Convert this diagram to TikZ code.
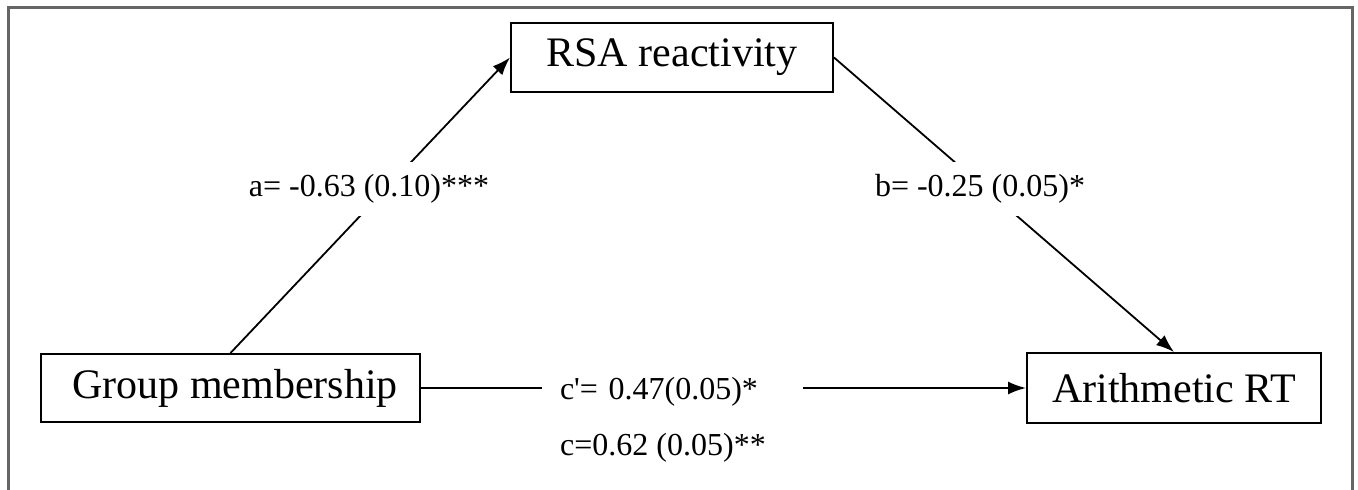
\documentclass[tikz,border=0pt]{standalone}
\usepackage{fontspec}
\setmainfont{Liberation Serif}
\usetikzlibrary{arrows.meta}
\begin{document}
\begin{tikzpicture}[x=1pt,y=-1pt,
  box/.style={draw, line width=2pt, inner sep=0pt, font=\fontsize{42}{48}\selectfont},
  lbl/.style={fill=white, inner xsep=4pt, inner ysep=12pt, font=\fontsize{32}{38}\selectfont},
  conn/.style={line width=1.8pt, -{Latex[length=18pt,width=13pt]}}]
\useasboundingbox (0,0) rectangle (1358,490);
\draw[line width=3pt, color=black!60] (8,490) -- (8,7) -- (1352,7) -- (1352,490);
\node[box, minimum width=322, minimum height=69] (rsa) at (672,57.5) {RSA reactivity};
\node[box, minimum width=379, minimum height=68] (grp) at (230.5,388) {\hspace*{9pt}Group membership};
\node[box, minimum width=294, minimum height=70] (ar) at (1174,388) {Arithmetic RT};
\draw[conn] (grp.north) -- (rsa.west);
\node[lbl] (la) at (369,189) {a= -0.63 (0.10)***};
\draw[conn] (rsa.east) -- (ar.north);
\node[lbl] (lb) at (980,189) {b= -0.25 (0.05)*};
\draw[conn] (grp.east) -- (ar.west);
\node[lbl, inner xsep=18pt, inner ysep=6pt, text width=225pt, align=left] (lcp) at (672.5,392) {c\textquotesingle= 0.47(0.05)*};
\node[font=\fontsize{32}{38}\selectfont, anchor=west, inner sep=0pt] (lc) at (560,448) {c=0.62 (0.05)**};
\end{tikzpicture}
\end{document}
